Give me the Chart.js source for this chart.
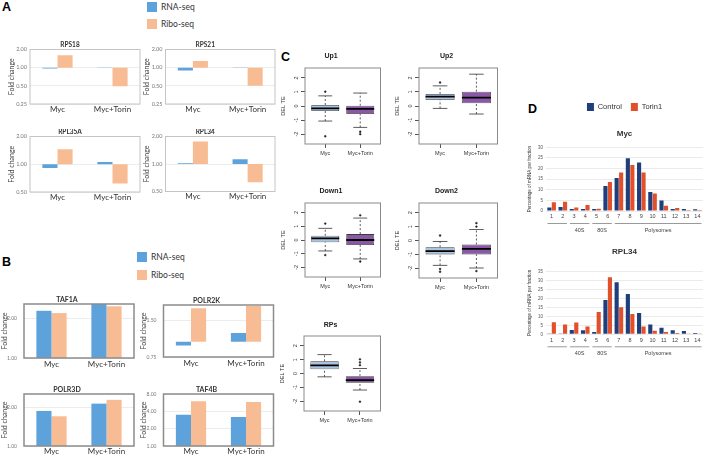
<!DOCTYPE html>
<html>
<head>
<meta charset="utf-8">
<script src="https://cdn.jsdelivr.net/npm/chart.js@4.4.1/dist/chart.umd.min.js"></script>
<style>
html,body{margin:0;padding:0;background:#fff;}
#fig{position:relative;width:706px;height:456px;overflow:hidden;background:#fff;}
#fig canvas{position:absolute;}
.panel{position:absolute;font:bold 12.5px "Liberation Sans",Arial,sans-serif;line-height:12.5px;color:#000;}
.leg{position:absolute;font:8.5px Lato,"Liberation Sans",sans-serif;line-height:10px;color:#333;white-space:nowrap;}
.sw{position:absolute;width:9.5px;height:9.5px;}
</style>
</head>
<body>
<div id="fig">
  <div class="panel" style="left:2px;top:1px">A</div>
  <div class="panel" style="left:2px;top:256px">B</div>
  <div class="panel" style="left:281px;top:51px">C</div>
  <div class="panel" style="left:528px;top:103px">D</div>
</div>
<script>
// ---------------- DATA ----------------
const abCategories = ['Myc', 'Myc+Torin'];
const seriesNames = ['RNA-seq', 'Ribo-seq'];

// Panel A (fold change, log2 axis, bars float from 1.0)
const rps18Rna = [0.97, 1.01],  rps18Ribo = [1.60, 0.49];
const rps21Rna = [0.90, 1.01],  rps21Ribo = [1.29, 0.50];
const rpl35aRna = [0.91, 1.06], rpl35aRibo = [1.45, 0.62];
const rpl34Rna = [1.02, 1.13],  rpl34Ribo = [1.76, 0.63];
const aTicksTop = [0.25, 0.5, 1, 2];
const aTicksBottom = [0.5, 1, 2];

// Panel B
const taf1aRna = [2.29, 2.65],  taf1aRibo = [2.20, 2.48];
const polr2kRna = [0.93, 1.18], polr2kRibo = [1.88, 1.96];
const polr3dRna = [1.87, 2.13], polr3dRibo = [1.70, 2.28];
const taf4bRna = [3.48, 3.20],  taf4bRibo = [6.00, 5.80];
const taf1aTicks = [1, 2];
const polr2kTicks = [0.75, 1.5];
const polr3dTicks = [1, 2];
const taf4bTicks = [1, 2, 4, 8];

// Panel C (boxplots: [lowWhisker, Q1, median, Q3, highWhisker] per category)
const boxCategories = ['Myc', 'Myc+Torin'];
const up1Stats   = [[-1.07, -0.36, -0.17, 0.07, 0.72], [-1.52, -0.57, -0.21, 0.02, 0.92]];
const up1Out     = [[1.02, -2.15], [-1.83, -2.0]];
const up2Stats   = [[-0.17, 0.43, 0.67, 0.86, 1.43], [-0.57, 0.19, 0.60, 1.02, 2.26]];
const up2Out     = [[1.67], []];
const down1Stats = [[-0.80, -0.17, 0.12, 0.31, 0.85], [-1.38, -0.36, 0.0, 0.43, 1.60]];
const down1Out   = [[1.2, -1.1], [1.8, -1.57]];
const down2Stats = [[-1.79, -1.0, -0.77, -0.48, -0.07], [-1.98, -1.0, -0.60, -0.29, 0.79]];
const down2Out   = [[0.36, -2.05, -2.25], [1.0, 1.25, -2.2]];
const rpsStats   = [[-0.24, 0.31, 0.59, 0.88, 1.36], [-1.19, -0.67, -0.48, -0.19, 0.36]];
const rpsOut     = [[], [0.6, 0.8, 1.02, -2.03]];
const delTeTicks = [-2, -1, 0, 1, 2];

// Panel D (percentage of mRNA per fraction)
const fractions = ['1','2','3','4','5','6','7','8','9','10','11','12','13','14'];
const dSeries = ['Control', 'Torin1'];
const mycControl   = [1.7, 1.9, 0.9, 0.9, 0.9, 11.8, 15.5, 24.8, 22.9, 8.9, 4.9, 0.9, 0.9, 0.8];
const mycTorin     = [4.1, 4.4, 1.6, 2.8, 1.1, 13.7, 18.1, 21.7, 18.1, 8.3, 2.5, 1.4, 0.5, 0.5];
const rpl34Control = [0.2, 0.5, 2.4, 2.2, 1.3, 19.1, 28.9, 22.4, 11.9, 5.4, 3.7, 2.2, 1.9, 0.7];
const rpl34Torin   = [6.7, 5.4, 6.5, 4.4, 12.4, 31.7, 15.0, 11.3, 4.3, 2.0, 1.3, 0.7, 0.4, 0.2];
const fractionGroups = [
  {label: '', from: 0, to: 1},
  {label: '40S', from: 2, to: 3},
  {label: '80S', from: 4, to: 5},
  {label: 'Polysomes', from: 6, to: 13}
];

// ---------------- STYLE ----------------
const FONT_AB = 'Lato, "Liberation Sans", sans-serif';
const FONT_R = '"Liberation Sans", Arial, sans-serif';
const AB_COLORS = ['#5ea2dc', '#f8bc94'];
const BOX_FILLS = ['#a9c3e0', '#8a58a7'];
const D_COLORS = ['#1e3f7b', '#e1502b'];
const BOX_HALF = 0.4, CAP_HALF = 0.2;

const fig = document.getElementById('fig');

function addCanvas(b) {
  const c = document.createElement('canvas');
  c.width = b.w; c.height = b.h;
  c.style.left = b.left + 'px'; c.style.top = b.top + 'px';
  c.style.width = b.w + 'px'; c.style.height = b.h + 'px';
  fig.appendChild(c);
  return c;
}
function boxFor(area, yW, xH, topExtra) {
  const L = area[0] - yW, T = area[1] - topExtra;
  const left = Math.floor(L), top = Math.floor(T);
  const right = Math.ceil(area[2] + 2), bottom = Math.ceil(area[3] + xH);
  return {left, top, w: right - left, h: bottom - top,
    pad: {left: L - left, top: T - top, right: right - area[2], bottom: bottom - (area[3] + xH)}};
}
function htmlLegend(x, y, gap) {
  seriesNames.forEach((n, i) => {
    const sw = document.createElement('div');
    sw.className = 'sw';
    sw.style.left = x + 'px'; sw.style.top = (y + i * gap) + 'px';
    sw.style.background = AB_COLORS[i];
    fig.appendChild(sw);
    const t = document.createElement('div');
    t.className = 'leg'; t.textContent = n;
    t.style.left = (x + 14) + 'px'; t.style.top = (y + i * gap) + 'px';
    fig.appendChild(t);
  });
}

const framePlugin = {
  id: 'frame',
  afterDatasetsDraw(chart, args, opts) {
    const a = chart.chartArea, ctx = chart.ctx;
    ctx.save();
    ctx.strokeStyle = opts.color || '#bbb';
    ctx.lineWidth = opts.width || 1;
    ctx.strokeRect(a.left, a.top, a.right - a.left, a.bottom - a.top);
    ctx.restore();
  }
};

function foldChart(p) {
  const b = boxFor(p.area, p.yW, p.xH, p.tSize + p.tGap);
  new Chart(addCanvas(b), {
    type: 'bar',
    data: {
      labels: abCategories,
      datasets: [
        {label: seriesNames[0], data: p.rna.map(v => [1, v]), backgroundColor: AB_COLORS[0]},
        {label: seriesNames[1], data: p.ribo.map(v => [1, v]), backgroundColor: AB_COLORS[1]}
      ]
    },
    options: {
      responsive: false, animation: false, devicePixelRatio: 1,
      layout: {padding: b.pad},
      datasets: {bar: {barPercentage: 1, categoryPercentage: 0.55, borderWidth: 0}},
      plugins: {
        legend: {display: false}, tooltip: {enabled: false},
        title: {display: true, text: p.title, color: '#333',
          font: {family: FONT_AB, size: p.tSize, lineHeight: 1}, padding: {top: 0, bottom: p.tGap}},
        frame: {color: p.frameColor, width: p.frameW}
      },
      scales: {
        x: {grid: {display: false, drawTicks: false}, border: {display: false},
          ticks: {font: {family: FONT_AB, size: p.catSize}, color: '#333', padding: p.catPad, maxRotation: 0},
          afterFit: s => { s.height = p.xH; }},
        y: {type: 'logarithmic', min: p.min, max: p.max,
          afterBuildTicks: s => { s.ticks = p.ticks.map(v => ({value: v})); },
          ticks: {font: {family: FONT_AB, size: p.tickSize}, color: '#777', padding: p.tickPad,
            callback: v => Number(v).toFixed(2)},
          grid: {color: '#ececec', drawTicks: false}, border: {display: false},
          title: {display: true, text: 'Fold change', color: '#444',
            font: {family: FONT_AB, size: p.yTitleSize}, padding: {top: p.yTitlePad, bottom: 0}},
          afterFit: s => { s.width = p.yW; }}
      }
    },
    plugins: [framePlugin]
  });
}

function boxChart(p) {
  const b = boxFor(p.area, 26, 14, 7 + p.tGap);
  const med = [], whisk = [], caps = [], outs = [];
  p.stats.forEach((s, i) => {
    const x = i + 1;
    med.push({x: x - BOX_HALF, y: s[2]}, {x: x + BOX_HALF, y: s[2]}, {x: x, y: null});
    whisk.push({x, y: s[3]}, {x, y: s[4]}, {x, y: null}, {x, y: s[0]}, {x, y: s[1]}, {x, y: null});
    caps.push({x: x - CAP_HALF, y: s[4]}, {x: x + CAP_HALF, y: s[4]}, {x, y: null},
              {x: x - CAP_HALF, y: s[0]}, {x: x + CAP_HALF, y: s[0]}, {x, y: null});
  });
  p.out.forEach((arr, i) => arr.forEach(v => outs.push({x: i + 1, y: v})));
  new Chart(addCanvas(b), {
    type: 'bar',
    data: {
      datasets: [
        {type: 'bar', data: p.stats.map((s, i) => ({x: i + 1, y: [s[1], s[3]]})),
          backgroundColor: BOX_FILLS, borderColor: '#3a3a3a', borderWidth: 0.8, borderSkipped: false,
          categoryPercentage: 0.8, barPercentage: 1, order: 4},
        {type: 'line', data: whisk, borderColor: '#333', borderWidth: 0.8, borderDash: [2, 2],
          pointRadius: 0, fill: false, spanGaps: false, order: 3},
        {type: 'line', data: caps, borderColor: '#333', borderWidth: 0.8,
          pointRadius: 0, fill: false, spanGaps: false, order: 2},
        {type: 'line', data: med, borderColor: '#000', borderWidth: 1.8,
          pointRadius: 0, fill: false, spanGaps: false, order: 1},
        {type: 'scatter', data: outs, pointRadius: 0.9, pointBackgroundColor: '#222',
          pointBorderColor: '#222', pointBorderWidth: 0.5, order: 0}
      ]
    },
    options: {
      responsive: false, animation: false, devicePixelRatio: 1,
      layout: {padding: b.pad},
      plugins: {
        legend: {display: false}, tooltip: {enabled: false},
        title: {display: true, text: p.title, color: '#222',
          font: {family: FONT_R, size: 7, weight: 'bold', lineHeight: 1}, padding: {top: 0, bottom: p.tGap}},
        frame: {color: '#8a8a8a', width: 1}
      },
      scales: {
        x: {type: 'linear', min: 0.42, max: 2.58, offset: false,
          afterBuildTicks: s => { s.ticks = [{value: 1}, {value: 2}]; },
          ticks: {callback: v => boxCategories[v - 1], font: {family: FONT_R, size: 5.5}, color: '#333',
            padding: 2, autoSkip: false, maxRotation: 0},
          grid: {drawOnChartArea: false, drawTicks: true, tickLength: 4, color: '#555', offset: false},
          border: {display: false},
          afterFit: s => { s.height = 14; }},
        y: {type: 'linear', min: -2.7, max: 2.7,
          afterBuildTicks: s => { s.ticks = delTeTicks.map(v => ({value: v})); },
          ticks: {minRotation: 90, maxRotation: 90, crossAlign: 'center',
            font: {family: FONT_R, size: 5.5}, color: '#333', padding: 2},
          grid: {drawOnChartArea: false, tickLength: 4, color: '#555'},
          border: {display: false},
          title: {display: true, text: 'DEL TE', color: '#333', font: {family: FONT_R, size: 5.5},
            padding: {top: 1, bottom: 0}},
          afterFit: s => { s.width = 26; }}
      }
    },
    plugins: [framePlugin]
  });
}

const groupPlugin = {
  id: 'groups',
  afterDraw(chart) {
    const x = chart.scales.x, a = chart.chartArea, ctx = chart.ctx;
    const half = (x.getPixelForValue(1) - x.getPixelForValue(0)) / 2;
    ctx.save();
    ctx.strokeStyle = '#9a9a9a'; ctx.lineWidth = 1;
    ctx.fillStyle = '#444'; ctx.font = '5.5px ' + FONT_R;
    ctx.textAlign = 'center'; ctx.textBaseline = 'middle';
    fractionGroups.forEach(g => {
      const x0 = x.getPixelForValue(g.from) - half + 1.5;
      const x1 = x.getPixelForValue(g.to) + half - 1.5;
      ctx.beginPath(); ctx.moveTo(x0, a.bottom + 12.5); ctx.lineTo(x1, a.bottom + 12.5); ctx.stroke();
      if (g.label) ctx.fillText(g.label, (x0 + x1) / 2, a.bottom + 19.5);
    });
    ctx.restore();
  }
};

function fracChart(p) {
  const b = boxFor(p.area, 21, 26, p.topExtra);
  new Chart(addCanvas(b), {
    type: 'bar',
    data: {
      labels: fractions,
      datasets: [
        {label: dSeries[0], data: p.control, backgroundColor: D_COLORS[0]},
        {label: dSeries[1], data: p.torin, backgroundColor: D_COLORS[1]}
      ]
    },
    options: {
      responsive: false, animation: false, devicePixelRatio: 1,
      layout: {padding: b.pad},
      datasets: {bar: {categoryPercentage: 0.8, barPercentage: 0.92, borderWidth: 0}},
      plugins: {
        tooltip: {enabled: false},
        legend: {display: p.legend, position: 'top', fullSize: false, weight: 3000,
          labels: {boxWidth: 7, boxHeight: 8, padding: 9, color: '#333',
            font: {family: FONT_R, size: 7.5}}},
        title: {display: true, text: p.title, color: '#333', fullSize: false, weight: 500,
          font: {family: FONT_R, size: 8, lineHeight: 1}, padding: {top: p.tPadTop, bottom: p.tPadBottom}}
      },
      scales: {
        x: {grid: {display: false, drawTicks: false}, border: {display: false},
          ticks: {font: {family: FONT_R, size: 5.5}, color: '#444', padding: 2.5, autoSkip: false, maxRotation: 0},
          afterFit: s => { s.height = 26; }},
        y: {min: 0, max: p.max,
          ticks: {stepSize: 5, font: {family: FONT_R, size: 4.5}, color: '#555', padding: 3},
          grid: {color: '#ebebeb', drawTicks: false}, border: {display: false},
          title: {display: true, text: 'Percentage of mRNA per fraction', color: '#333',
            font: {family: FONT_R, size: 4.5}, padding: {top: 2.5, bottom: 0}},
          afterFit: s => { s.width = 21; }}
      }
    },
    plugins: [groupPlugin]
  });
}

// ---------------- BUILD ----------------
htmlLegend(147, 2, 17);
htmlLegend(137, 252, 18.3);

const aCommon = {yW: 30, tSize: 6.5, catSize: 8, catPad: 0.5, tickSize: 5.5, tickPad: 3,
  yTitleSize: 7, yTitlePad: 7.5, frameColor: '#c4c4c4', frameW: 1};
foldChart(Object.assign({}, aCommon, {title: 'RPS18', rna: rps18Rna, ribo: rps18Ribo, min: 0.25, max: 2,
  ticks: aTicksTop, area: [30, 49.5, 140, 104], xH: 12, tGap: 1.5}));
foldChart(Object.assign({}, aCommon, {title: 'RPS21', rna: rps21Rna, ribo: rps21Ribo, min: 0.25, max: 2,
  ticks: aTicksTop, area: [165.5, 49.5, 275, 104], xH: 12, tGap: 1.5}));
foldChart(Object.assign({}, aCommon, {title: 'RPL35A', rna: rpl35aRna, ribo: rpl35aRibo, min: 0.5, max: 2,
  ticks: aTicksBottom, area: [30, 136.5, 140, 192], xH: 13, tGap: 1}));
foldChart(Object.assign({}, aCommon, {title: 'RPL34', rna: rpl34Rna, ribo: rpl34Ribo, min: 0.5, max: 2,
  ticks: aTicksBottom, area: [165.5, 136.5, 275, 191.5], xH: 13, tGap: 1}));

const bCommon = {yW: 24, tSize: 7, catSize: 8, catPad: 2, tickSize: 5, tickPad: 7,
  yTitleSize: 7, yTitlePad: 0.5, frameColor: '#8c8c8c', frameW: 1.5};
foldChart(Object.assign({}, bCommon, {title: 'TAF1A', rna: taf1aRna, ribo: taf1aRibo, min: 1, max: 2.58,
  ticks: taf1aTicks, area: [24, 302, 134, 358], xH: 13, tGap: 0.5}));
foldChart(Object.assign({}, bCommon, {title: 'POLR2K', rna: polr2kRna, ribo: polr2kRibo, min: 0.75, max: 2.0,
  ticks: polr2kTicks, area: [163.5, 303, 273.5, 357], xH: 13, tGap: 1}));
foldChart(Object.assign({}, bCommon, {title: 'POLR3D', rna: polr3dRna, ribo: polr3dRibo, min: 1, max: 2.53,
  ticks: polr3dTicks, area: [24, 392, 134, 447], xH: 9, tGap: 0.5, catPad: 1}));
foldChart(Object.assign({}, bCommon, {title: 'TAF4B', rna: taf4bRna, ribo: taf4bRibo, min: 1, max: 8,
  ticks: taf4bTicks, area: [163.5, 392, 273.5, 447], xH: 9, tGap: 1, catPad: 1}));

boxChart({title: 'Up1', stats: up1Stats, out: up1Out, area: [305, 68, 383, 144], tGap: 8.5});
boxChart({title: 'Up2', stats: up2Stats, out: up2Out, area: [419, 68, 500, 144], tGap: 8.5});
boxChart({title: 'Down1', stats: down1Stats, out: down1Out, area: [305, 203, 383, 277], tGap: 8.2});
boxChart({title: 'Down2', stats: down2Stats, out: down2Out, area: [419, 203, 500, 278], tGap: 8.2});
boxChart({title: 'RPs', stats: rpsStats, out: rpsOut, area: [304, 336, 383, 411], tGap: 7.5});

fracChart({title: 'Myc', control: mycControl, torin: mycTorin, max: 30, legend: true,
  area: [546, 147.3, 703, 211], tPadTop: 8.3, tPadBottom: 10, topExtra: 27 + 8.3 + 8 + 10});
fracChart({title: 'RPL34', control: rpl34Control, torin: rpl34Torin, max: 35, legend: false,
  area: [546, 271.3, 703, 334.3], tPadTop: 0, tPadBottom: 15.3, topExtra: 8 + 15.3});
</script>
</body>
</html>
